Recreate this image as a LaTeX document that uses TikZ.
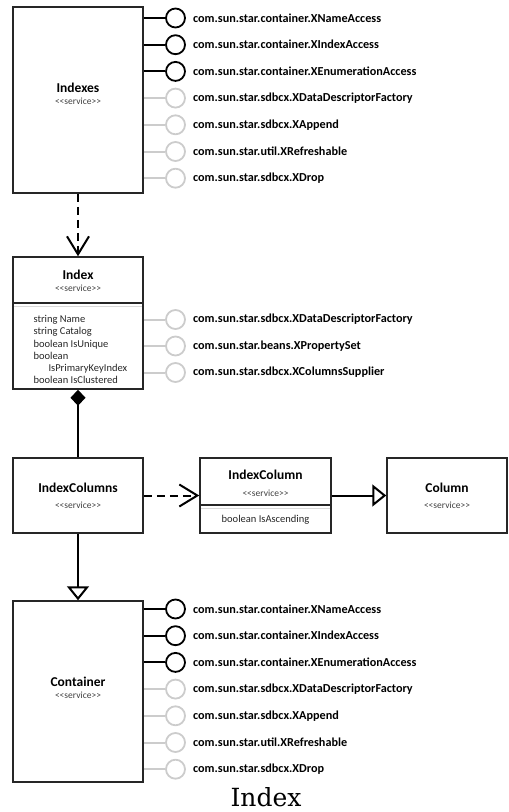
\documentclass[tikz,border=0pt]{standalone}
\usepackage{fontspec}
\setmainfont{Carlito}
\newfontfamily\captionfont{DejaVu Serif}
\usetikzlibrary{arrows.meta,positioning}

\begin{document}
\begin{tikzpicture}[x=1pt,y=-1pt,
  box/.style={draw=black!85,line width=1.5pt,minimum width=130pt,inner sep=0pt},
  ttl/.style={font=\fontsize{13.5}{15}\selectfont\bfseries},
  stereo/.style={font=\fontsize{9.5}{11}\selectfont,text=black!75},
  attr/.style={font=\fontsize{10.5}{12.2}\selectfont,text=black!85,align=left},
  lolli/.style={circle,draw,line width=1.8pt,minimum size=19pt,inner sep=0pt},
  req/.style={black},
  opt/.style={black!20},
  iface/.style={anchor=west,font=\fontsize{12.2}{13}\selectfont\bfseries,inner sep=0pt},
  link/.style={line width=2pt},
  sep/.style={draw=black!85,line width=1.5pt}]
\useasboundingbox (0,0) rectangle (509,812);

\node[box,minimum height=186pt] (indexes) at (78,100) {};
\node[ttl] (indexesname) at (78,88) {Indexes};
\node[stereo] (indexesstereo) at (78,101) {<{}<service>{}>};

\node[box,minimum height=132pt] (index) at (78,323) {};
\node[ttl] (indexname) at (78,275) {Index};
\node[stereo] (indexstereo) at (78,288) {<{}<service>{}>};
\draw[sep] (13,303) -- (143,303);
\draw[black!15,line width=1pt] (14,306) -- (142,306);
\node[attr,anchor=north west] (indexattr) at (30,312) {string Name\\string Catalog\\boolean IsUnique\\boolean\\\hspace*{15pt}IsPrimaryKeyIndex\\boolean IsClustered};

\node[box,minimum height=75pt] (indexcols) at (78,495.5) {};
\node[ttl] (indexcolsname) at (78,488) {IndexColumns};
\node[stereo] (indexcolsstereo) at (78,505) {<{}<service>{}>};

\node[box,minimum height=75pt,minimum width=131pt] (indexcol) at (265.5,495.5) {};
\node[ttl] (indexcolname) at (265.5,475) {IndexColumn};
\node[stereo] (indexcolstereo) at (265.5,493) {<{}<service>{}>};
\draw[sep] (200,505) -- (331,505);
\draw[black!15,line width=1pt] (201,508) -- (330,508);
\node[attr] (indexcolattr) at (265.5,520) {boolean IsAscending};

\node[box,minimum height=75pt,minimum width=120pt] (column) at (447,495.5) {};
\node[ttl] (columnname) at (447,488) {Column};
\node[stereo] (columnstereo) at (447,505) {<{}<service>{}>};

\node[box,minimum height=181pt] (container) at (78,691.5) {};
\node[ttl] (containername) at (78,682) {Container};
\node[stereo] (containerstereo) at (78,695) {<{}<service>{}>};

\foreach \b/\y in {indexes/18,container/609}
  \foreach \t/\c [count=\i] in {com.sun.star.container.XNameAccess/req,
      com.sun.star.container.XIndexAccess/req,
      com.sun.star.container.XEnumerationAccess/req,
      com.sun.star.sdbcx.XDataDescriptorFactory/opt,
      com.sun.star.sdbcx.XAppend/opt,
      com.sun.star.util.XRefreshable/opt,
      com.sun.star.sdbcx.XDrop/opt} {
    \node[lolli,\c] (\b\i) at (175.5,\y+26.7*\i-26.7) {};
    \draw[link,\c] (\b.east |- \b\i) -- (\b\i);
    \node[iface] (\b label\i) at ([xshift=7pt]\b\i.east) {\t};
  }

\foreach \t [count=\i] in {com.sun.star.sdbcx.XDataDescriptorFactory,
    com.sun.star.beans.XPropertySet,
    com.sun.star.sdbcx.XColumnsSupplier} {
  \node[lolli,opt] (index\i) at (175.5,319.5+26.5*\i-26.5) {};
  \draw[link,opt] (index.east |- index\i) -- (index\i);
  \node[iface] (indexlabel\i) at ([xshift=7pt]index\i.east) {\t};
}

\draw[link,dash pattern=on 8pt off 5pt,-{Straight Barb[length=18pt,width=22pt]}] (indexes) -- (index);
\draw[link,{Diamond[length=16pt,width=15pt]}-] (index) -- (indexcols);
\draw[link,dash pattern=on 8pt off 5pt,-{Straight Barb[length=18pt,width=22pt]}] (indexcols) -- (indexcol);
\draw[link,-{Triangle[open,length=14pt,width=22pt]}] (indexcol) -- (column);
\draw[link,-{Triangle[open,length=14pt,width=22pt]}] (indexcols) -- (container);

\node[font=\captionfont\fontsize{25}{30}\selectfont] (caption) at (266,797) {Index};
\end{tikzpicture}
\end{document}
